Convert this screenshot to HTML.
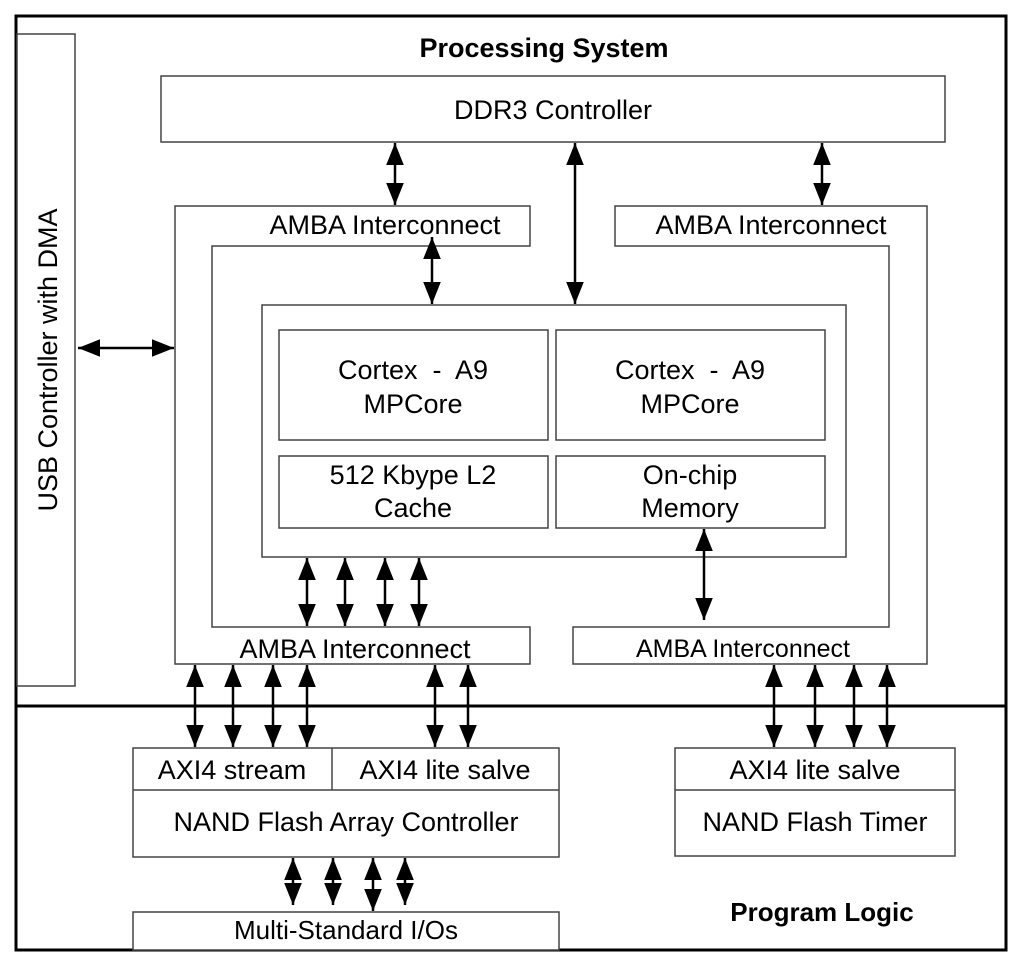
<!DOCTYPE html>
<html><head><meta charset="utf-8"><style>
html,body{margin:0;padding:0;background:#fff}
svg{display:block}
text{font-family:"Liberation Sans",Arial,sans-serif;fill:#000}
</style></head><body>
<svg width="1024" height="968" viewBox="0 0 1024 968" xmlns="http://www.w3.org/2000/svg">
<defs>
<marker id="a" viewBox="0 0 10 10" refX="10" refY="5" markerWidth="22" markerHeight="22" markerUnits="userSpaceOnUse" orient="auto-start-reverse">
<path d="M0,1 L10,5 L0,9 z" fill="#000"/></marker>
</defs>
<g fill="none" stroke="#000">
<rect x="16" y="16" width="990" height="934" stroke-width="3"/>
<line x1="16" y1="706" x2="1006" y2="706" stroke-width="3"/>
</g>
<g fill="#fff" stroke="#444" stroke-width="1.5">
<rect x="17" y="34" width="58" height="652"/>
<rect x="161" y="76" width="784" height="66"/>
<path d="M175,206 H530 V246 H212 V627 H530 V664 H175 Z"/>
<path d="M615,206 H927 V664 H573 V627 H889 V246 H615 Z"/>
<rect x="262" y="305" width="584" height="252"/>
<rect x="279" y="330" width="269" height="110"/>
<rect x="556" y="330" width="269" height="110"/>
<rect x="279" y="456" width="269" height="72"/>
<rect x="556" y="456" width="269" height="72"/>
<rect x="133" y="748" width="426" height="109"/>
<line x1="133" y1="790" x2="559" y2="790"/>
<line x1="332" y1="748" x2="332" y2="790"/>
<rect x="675" y="748" width="280" height="108"/>
<line x1="675" y1="790" x2="955" y2="790"/>
<rect x="133" y="912" width="426" height="38"/>
</g>
<g stroke="#000" stroke-width="2.5" marker-start="url(#a)" marker-end="url(#a)">
<line x1="395" y1="143" x2="395" y2="205"/>
<line x1="575" y1="143" x2="575" y2="304"/>
<line x1="822" y1="143" x2="822" y2="205"/>
<line x1="432" y1="237" x2="432" y2="304"/>
<line x1="78" y1="348" x2="174" y2="348"/>
<line x1="307" y1="558" x2="307" y2="626"/>
<line x1="345" y1="558" x2="345" y2="626"/>
<line x1="385" y1="558" x2="385" y2="626"/>
<line x1="419" y1="558" x2="419" y2="626"/>
<line x1="704" y1="529" x2="704" y2="620"/>
<line x1="195" y1="665" x2="195" y2="747"/>
<line x1="233" y1="665" x2="233" y2="747"/>
<line x1="273" y1="665" x2="273" y2="747"/>
<line x1="307" y1="665" x2="307" y2="747"/>
<line x1="435" y1="665" x2="435" y2="747"/>
<line x1="468" y1="665" x2="468" y2="747"/>
<line x1="774" y1="665" x2="774" y2="747"/>
<line x1="815" y1="665" x2="815" y2="747"/>
<line x1="854" y1="665" x2="854" y2="747"/>
<line x1="887" y1="665" x2="887" y2="747"/>
<line x1="293" y1="858" x2="293" y2="905"/>
<line x1="333" y1="858" x2="333" y2="905"/>
<line x1="373" y1="858" x2="373" y2="911"/>
<line x1="405" y1="858" x2="405" y2="905"/>
</g>
<g font-size="27" text-anchor="middle">
<text x="544" y="57" font-weight="bold" font-size="27">Processing System</text>
<text x="553" y="119">DDR3 Controller</text>
<text x="385" y="234">AMBA Interconnect</text>
<text x="771" y="234">AMBA Interconnect</text>
<text x="355" y="658">AMBA Interconnect</text>
<text x="743" y="657" font-size="25">AMBA Interconnect</text>
<text x="413" y="379" xml:space="preserve">Cortex  -  A9</text>
<text x="413" y="413">MPCore</text>
<text x="690" y="379" xml:space="preserve">Cortex  -  A9</text>
<text x="690" y="413">MPCore</text>
<text x="413" y="484">512 Kbype L2</text>
<text x="413" y="517">Cache</text>
<text x="690" y="484">On-chip</text>
<text x="690" y="517">Memory</text>
<text x="232" y="779">AXI4 stream</text>
<text x="445" y="779">AXI4 lite salve</text>
<text x="346" y="831">NAND Flash Array Controller</text>
<text x="815" y="779">AXI4 lite salve</text>
<text x="815" y="831">NAND Flash Timer</text>
<text x="346" y="939" font-size="26">Multi-Standard I/Os</text>
<text x="822" y="921" font-weight="bold" font-size="26">Program Logic</text>
<text transform="translate(57,360) rotate(-90)">USB Controller with DMA</text>
</g>
</svg>
</body></html>
